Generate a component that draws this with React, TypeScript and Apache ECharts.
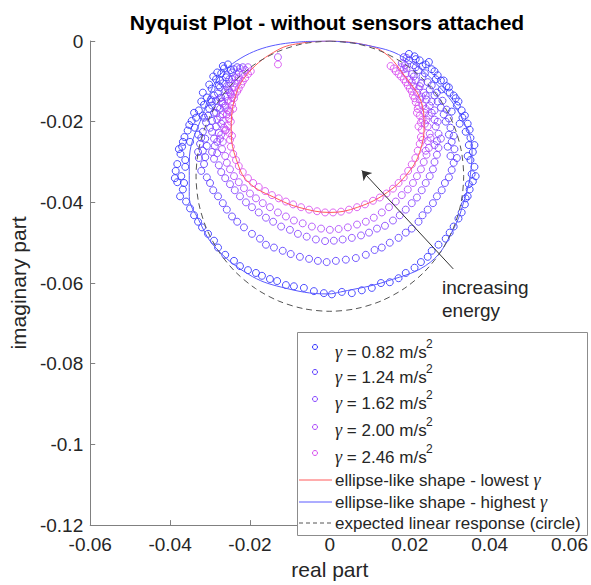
import React, { useEffect, useRef } from 'react';
import * as echarts from 'echarts';

const FONT = '"Liberation Sans", Arial, Helvetica, sans-serif';
const GFONT = '"Liberation Serif", "DejaVu Serif", serif';

const gammaLabels = ['0.82', '1.24', '1.62', '2.00', '2.46'];
const seriesColors = ['#3030ff', '#5a3cff', '#8442ff', '#ab46fb', '#d84cf0'];

const ring082 = [
  [-0.0255, -0.0058], [-0.0265, -0.0068], [-0.0248, -0.0072], [-0.0272, -0.0080], [-0.0260, -0.0090],
  [-0.0285, -0.0095], [-0.0278, -0.0110], [-0.0296, -0.0118], [-0.0290, -0.0135], [-0.0308, -0.0140],
  [-0.0315, -0.0158], [-0.0302, -0.0168], [-0.0328, -0.0172], [-0.0335, -0.0190], [-0.0346, -0.0198],
  [-0.0338, -0.0215], [-0.0356, -0.0222], [-0.0364, -0.0238], [-0.0350, -0.0250], [-0.0370, -0.0262],
  [-0.0374, -0.0280], [-0.0362, -0.0295], [-0.0382, -0.0305], [-0.0386, -0.0322], [-0.0372, -0.0335],
  [-0.0382, -0.0350], [-0.0368, -0.0368], [-0.0375, -0.0385], [-0.0360, -0.0398], [-0.0350, -0.0415],
  [-0.0340, -0.0432], [-0.0330, -0.0448], [-0.0320, -0.0462], [-0.0305, -0.0478], [-0.0290, -0.0495],
  [-0.0280, -0.0512], [-0.0262, -0.0530], [-0.0240, -0.0545], [-0.0225, -0.0558], [-0.0205, -0.0568],
  [-0.0185, -0.0575], [-0.0170, -0.0582], [-0.0150, -0.0590], [-0.0132, -0.0595], [-0.0110, -0.0605],
  [-0.0090, -0.0608], [-0.0065, -0.0612], [-0.0040, -0.0620], [-0.0015, -0.0625], [0.0005, -0.0628],
  [0.0030, -0.0622], [0.0055, -0.0625], [0.0080, -0.0618], [0.0105, -0.0612], [0.0128, -0.0600],
  [0.0150, -0.0598], [0.0172, -0.0588], [0.0190, -0.0575], [0.0212, -0.0562], [0.0228, -0.0548],
  [0.0245, -0.0535], [0.0255, -0.0520], [0.0272, -0.0505], [0.0290, -0.0490], [0.0300, -0.0475],
  [0.0310, -0.0460], [0.0322, -0.0440], [0.0330, -0.0425], [0.0338, -0.0405], [0.0345, -0.0385],
  [0.0350, -0.0368], [0.0358, -0.0348], [0.0355, -0.0330], [0.0362, -0.0312], [0.0352, -0.0295],
  [0.0358, -0.0275], [0.0348, -0.0258], [0.0352, -0.0240], [0.0340, -0.0225], [0.0345, -0.0205],
  [0.0332, -0.0190], [0.0330, -0.0172], [0.0318, -0.0160], [0.0315, -0.0142], [0.0300, -0.0128],
  [0.0292, -0.0112], [0.0278, -0.0098], [0.0270, -0.0085], [0.0255, -0.0070], [0.0240, -0.0058],
  [0.0225, -0.0048], [0.0212, -0.0038], [0.0198, -0.0032], [0.0280, -0.0120], [0.0305, -0.0175],
  [0.0325, -0.0205], [0.0262, -0.0075], [0.0232, -0.0062],
  [-0.0268, -0.0062], [-0.0282, -0.0078], [-0.0292, -0.0088], [-0.0275, -0.0098], [-0.0302, -0.0108],
  [-0.0318, -0.0128], [-0.0296, -0.0150], [-0.0322, -0.0150], [-0.0340, -0.0178], [-0.0318, -0.0185],
  [-0.0352, -0.0208], [-0.0330, -0.0232], [-0.0368, -0.0250], [-0.0378, -0.0268], [-0.0362, -0.0312],
  [-0.0388, -0.0340], [-0.0365, -0.0352],
  [0.0215, -0.0045], [0.0248, -0.0052], [0.0265, -0.0095], [0.0285, -0.0098], [0.0298, -0.0115],
  [0.0310, -0.0135], [0.0322, -0.0150], [0.0338, -0.0185], [0.0350, -0.0220], [0.0362, -0.0258],
  [0.0345, -0.0285], [0.0365, -0.0335], [0.0348, -0.0355], [0.0340, -0.0390],
];

const ring124 = [
  [-0.0232, -0.0065], [-0.0245, -0.0078], [-0.0252, -0.0095], [-0.0268, -0.0105], [-0.0262, -0.0122],
  [-0.0280, -0.0130], [-0.0285, -0.0148], [-0.0295, -0.0160], [-0.0290, -0.0178], [-0.0305, -0.0185],
  [-0.0310, -0.0202], [-0.0300, -0.0215], [-0.0318, -0.0225], [-0.0312, -0.0242], [-0.0325, -0.0255],
  [-0.0318, -0.0272], [-0.0328, -0.0290], [-0.0315, -0.0305], [-0.0322, -0.0322], [-0.0308, -0.0338],
  [-0.0300, -0.0352], [-0.0292, -0.0370], [-0.0280, -0.0385], [-0.0268, -0.0402], [-0.0258, -0.0418],
  [-0.0245, -0.0435], [-0.0232, -0.0448], [-0.0215, -0.0462], [-0.0195, -0.0478], [-0.0175, -0.0490],
  [-0.0160, -0.0505], [-0.0140, -0.0512], [-0.0118, -0.0520], [-0.0098, -0.0528], [-0.0075, -0.0535],
  [-0.0052, -0.0540], [-0.0030, -0.0545], [-0.0008, -0.0548], [0.0015, -0.0545], [0.0040, -0.0542],
  [0.0065, -0.0538], [0.0090, -0.0530], [0.0112, -0.0518], [0.0130, -0.0512], [0.0150, -0.0500],
  [0.0172, -0.0488], [0.0190, -0.0475], [0.0205, -0.0465], [0.0222, -0.0448], [0.0232, -0.0432],
  [0.0245, -0.0418], [0.0258, -0.0402], [0.0268, -0.0385], [0.0280, -0.0370], [0.0288, -0.0352],
  [0.0298, -0.0338], [0.0305, -0.0320], [0.0310, -0.0302], [0.0302, -0.0285], [0.0312, -0.0268],
  [0.0305, -0.0250], [0.0298, -0.0232], [0.0302, -0.0215], [0.0290, -0.0200], [0.0285, -0.0182],
  [0.0278, -0.0165], [0.0270, -0.0150], [0.0262, -0.0135], [0.0250, -0.0120], [0.0245, -0.0102],
  [0.0232, -0.0088], [0.0222, -0.0072], [0.0210, -0.0060], [0.0198, -0.0048], [0.0185, -0.0040],
  [-0.0240, -0.0070], [-0.0258, -0.0085], [-0.0275, -0.0115], [-0.0272, -0.0140], [-0.0298, -0.0145],
  [-0.0282, -0.0165], [-0.0315, -0.0190], [-0.0295, -0.0198], [-0.0322, -0.0240], [-0.0308, -0.0260],
  [-0.0330, -0.0275], [-0.0312, -0.0288],
  [0.0192, -0.0042], [0.0215, -0.0065], [0.0238, -0.0080], [0.0255, -0.0110], [0.0268, -0.0128],
  [0.0282, -0.0148], [0.0292, -0.0170], [0.0298, -0.0192], [0.0310, -0.0235], [0.0295, -0.0262],
  [0.0318, -0.0290],
];

const ring162 = [
  [-0.0218, -0.0065], [-0.0228, -0.0078], [-0.0238, -0.0090], [-0.0248, -0.0105], [-0.0255, -0.0120],
  [-0.0262, -0.0138], [-0.0270, -0.0150], [-0.0275, -0.0168], [-0.0268, -0.0182], [-0.0282, -0.0195],
  [-0.0285, -0.0212], [-0.0278, -0.0228], [-0.0290, -0.0242], [-0.0288, -0.0260], [-0.0282, -0.0278],
  [-0.0290, -0.0292], [-0.0278, -0.0308], [-0.0272, -0.0325], [-0.0262, -0.0340], [-0.0250, -0.0355],
  [-0.0238, -0.0370], [-0.0225, -0.0385], [-0.0210, -0.0400], [-0.0195, -0.0412], [-0.0178, -0.0425],
  [-0.0160, -0.0438], [-0.0142, -0.0448], [-0.0122, -0.0460], [-0.0100, -0.0468], [-0.0080, -0.0478],
  [-0.0058, -0.0485], [-0.0035, -0.0492], [-0.0012, -0.0496], [0.0010, -0.0495], [0.0032, -0.0492],
  [0.0055, -0.0488], [0.0078, -0.0482], [0.0098, -0.0475], [0.0118, -0.0465], [0.0138, -0.0458],
  [0.0158, -0.0445], [0.0175, -0.0432], [0.0190, -0.0418], [0.0205, -0.0402], [0.0218, -0.0388],
  [0.0230, -0.0370], [0.0240, -0.0352], [0.0250, -0.0335], [0.0258, -0.0318], [0.0262, -0.0300],
  [0.0268, -0.0282], [0.0272, -0.0265], [0.0268, -0.0248], [0.0272, -0.0230], [0.0265, -0.0212],
  [0.0262, -0.0195], [0.0255, -0.0178], [0.0250, -0.0160], [0.0242, -0.0145], [0.0235, -0.0128],
  [0.0225, -0.0112], [0.0215, -0.0098], [0.0205, -0.0082], [0.0192, -0.0068], [0.0180, -0.0055],
  [-0.0225, -0.0068], [-0.0245, -0.0095], [-0.0258, -0.0112], [-0.0250, -0.0128], [-0.0275, -0.0142],
  [-0.0262, -0.0160], [-0.0285, -0.0178], [-0.0272, -0.0205], [-0.0295, -0.0225], [-0.0282, -0.0250],
  [-0.0295, -0.0275],
  [0.0188, -0.0060], [0.0210, -0.0088], [0.0228, -0.0105], [0.0240, -0.0135], [0.0255, -0.0150],
  [0.0262, -0.0172], [0.0270, -0.0200], [0.0278, -0.0242], [0.0262, -0.0258],
];

const ring200 = [
  [-0.0205, -0.0065], [-0.0218, -0.0082], [-0.0230, -0.0098], [-0.0240, -0.0115], [-0.0248, -0.0132],
  [-0.0255, -0.0148], [-0.0262, -0.0165], [-0.0258, -0.0182], [-0.0268, -0.0198], [-0.0265, -0.0215],
  [-0.0272, -0.0232], [-0.0268, -0.0250], [-0.0270, -0.0268], [-0.0262, -0.0285], [-0.0258, -0.0302],
  [-0.0250, -0.0318], [-0.0240, -0.0335], [-0.0228, -0.0350], [-0.0215, -0.0365], [-0.0200, -0.0378],
  [-0.0185, -0.0390], [-0.0168, -0.0402], [-0.0150, -0.0412], [-0.0130, -0.0425], [-0.0110, -0.0435],
  [-0.0090, -0.0445], [-0.0068, -0.0452], [-0.0045, -0.0460], [-0.0022, -0.0465], [0.0000, -0.0468],
  [0.0022, -0.0466], [0.0045, -0.0462], [0.0068, -0.0455], [0.0090, -0.0448], [0.0110, -0.0438],
  [0.0130, -0.0425], [0.0148, -0.0412], [0.0165, -0.0398], [0.0180, -0.0382], [0.0195, -0.0368],
  [0.0208, -0.0352], [0.0218, -0.0335], [0.0228, -0.0318], [0.0235, -0.0300], [0.0242, -0.0282],
  [0.0248, -0.0265], [0.0245, -0.0248], [0.0250, -0.0230], [0.0245, -0.0212], [0.0242, -0.0195],
  [0.0238, -0.0178], [0.0232, -0.0160], [0.0225, -0.0145], [0.0218, -0.0128], [0.0210, -0.0112],
  [0.0200, -0.0095], [0.0190, -0.0080], [0.0178, -0.0065], [-0.0130, -0.0040],
  [-0.0212, -0.0072], [-0.0228, -0.0090], [-0.0238, -0.0105], [-0.0252, -0.0122], [-0.0245, -0.0140],
  [-0.0268, -0.0155], [-0.0255, -0.0172], [-0.0275, -0.0188], [-0.0262, -0.0222], [-0.0275, -0.0242],
  [0.0185, -0.0070], [0.0205, -0.0102], [0.0222, -0.0118], [0.0230, -0.0138], [0.0240, -0.0168],
  [0.0248, -0.0185], [0.0238, -0.0205], [0.0252, -0.0240], [0.0240, -0.0272],
];

const ring246 = [
  [-0.0198, -0.0075], [-0.0212, -0.0092], [-0.0222, -0.0108], [-0.0232, -0.0125], [-0.0240, -0.0142],
  [-0.0245, -0.0158], [-0.0250, -0.0175], [-0.0252, -0.0192], [-0.0255, -0.0210], [-0.0252, -0.0228],
  [-0.0250, -0.0245], [-0.0248, -0.0262], [-0.0242, -0.0280], [-0.0235, -0.0295], [-0.0228, -0.0310],
  [-0.0218, -0.0325], [-0.0205, -0.0340], [-0.0192, -0.0352], [-0.0178, -0.0362], [-0.0162, -0.0372],
  [-0.0145, -0.0382], [-0.0128, -0.0390], [-0.0110, -0.0398], [-0.0092, -0.0405], [-0.0072, -0.0412],
  [-0.0052, -0.0418], [-0.0032, -0.0422], [-0.0012, -0.0425], [0.0008, -0.0425], [0.0028, -0.0423],
  [0.0048, -0.0418], [0.0068, -0.0412], [0.0088, -0.0405], [0.0108, -0.0396], [0.0125, -0.0388],
  [0.0142, -0.0378], [0.0158, -0.0366], [0.0172, -0.0352], [0.0185, -0.0338], [0.0196, -0.0322],
  [0.0205, -0.0306], [0.0214, -0.0290], [0.0220, -0.0272], [0.0225, -0.0255], [0.0228, -0.0238],
  [0.0230, -0.0220], [0.0228, -0.0202], [0.0225, -0.0185], [0.0220, -0.0168], [0.0215, -0.0152],
  [0.0208, -0.0135], [0.0200, -0.0118], [0.0190, -0.0102], [0.0178, -0.0088], [0.0165, -0.0075],
  [0.0152, -0.0062], [-0.0005, 0.0005], [-0.0130, -0.0058],
  [-0.0205, -0.0082], [-0.0218, -0.0100], [-0.0228, -0.0118], [-0.0238, -0.0132], [-0.0248, -0.0150],
  [-0.0242, -0.0168], [-0.0258, -0.0182], [-0.0248, -0.0200], [-0.0260, -0.0220], [-0.0245, -0.0235],
  [0.0160, -0.0068], [0.0172, -0.0082], [0.0185, -0.0095], [0.0195, -0.0110], [0.0205, -0.0125],
  [0.0212, -0.0142], [0.0222, -0.0160], [0.0218, -0.0178], [0.0232, -0.0195], [0.0222, -0.0212],
  [0.0232, -0.0245],
];

const redCurve = [
  [0, 0], [0.0070, -0.0006], [0.0135, -0.0028], [0.0194, -0.0096], [0.0227, -0.0146],
  [0.0236, -0.0212], [0.0227, -0.0269], [0.0202, -0.0319], [0.0144, -0.0375], [0.0070, -0.0412],
  [0, -0.0425], [-0.0075, -0.0413], [-0.0130, -0.0392], [-0.0204, -0.0350], [-0.0234, -0.0294],
  [-0.0247, -0.0227], [-0.0239, -0.0146], [-0.0204, -0.0079], [-0.0130, -0.0022], [-0.0070, -0.0005],
  [0, 0],
];

const blueCurve = [
  [0, 0], [0.0090, -0.0010], [0.0184, -0.0040], [0.0280, -0.0120], [0.0335, -0.0200],
  [0.0356, -0.0270], [0.0352, -0.0330], [0.0338, -0.0390], [0.0309, -0.0467], [0.0252, -0.0548],
  [0.0144, -0.0595], [0.0027, -0.0622], [-0.0005, -0.0627], [-0.0122, -0.0610], [-0.0204, -0.0578],
  [-0.0289, -0.0509], [-0.0329, -0.0442], [-0.0352, -0.0385], [-0.0352, -0.0300], [-0.0325, -0.0200],
  [-0.0254, -0.0064], [-0.0072, -0.0002], [0, 0],
];

const circleCurve = [
  [0, 0], [0.00654, -0.00064], [0.01282, -0.00255], [0.01861, -0.00564], [0.02369, -0.00981],
  [0.02786, -0.01489], [0.03095, -0.02068], [0.03286, -0.02696], [0.0335, -0.0335], [0.03286, -0.04004],
  [0.03095, -0.04632], [0.02786, -0.05211], [0.02369, -0.05719], [0.01861, -0.06136], [0.01282, -0.06445],
  [0.00654, -0.06636], [0, -0.067], [-0.00654, -0.06636], [-0.01282, -0.06445], [-0.01861, -0.06136],
  [-0.02369, -0.05719], [-0.02786, -0.05211], [-0.03095, -0.04632], [-0.03286, -0.04004], [-0.0335, -0.0335],
  [-0.03286, -0.02696], [-0.03095, -0.02068], [-0.02786, -0.01489], [-0.02369, -0.00981], [-0.01861, -0.00564],
  [-0.01282, -0.00255], [-0.00654, -0.00064], [0, 0],
];

const arrowTail = [0.0309, -0.0565];
const arrowHead = [0.0080, -0.0321];

const rings = [ring082, ring124, ring162, ring200, ring246];

const legendMarkerY = [347, 372, 399, 427, 453];
const legendTextY = [352, 377, 403, 430, 457];

function fmt(v: number) {
  const n = parseFloat(v.toFixed(4));
  return n === 0 ? '0' : String(n);
}

export default function App() {
  const ref = useRef<HTMLDivElement>(null);
  useEffect(() => {
    if (!ref.current) return;
    const chart = echarts.init(ref.current, undefined, { renderer: 'svg' });

    const axisCommon = {
      type: 'value',
      splitLine: { show: false },
      axisLine: { show: true, onZero: false, lineStyle: { color: '#808080', width: 1 } },
      axisTick: { show: true, inside: true, length: 5, lineStyle: { color: '#808080' } },
      axisLabel: { fontSize: 19, color: '#262626', fontFamily: FONT, formatter: fmt },
      nameLocation: 'middle',
      nameTextStyle: { fontSize: 21, color: '#262626', fontFamily: FONT },
    };

    const scatterSeries = rings.map((r, i) => ({
      type: 'scatter',
      name: gammaLabels[i],
      data: r,
      symbol: 'circle',
      symbolSize: 7,
      silent: true,
      itemStyle: { color: 'rgba(0,0,0,0)', borderColor: seriesColors[i], borderWidth: 1, opacity: 0.85 },
      z: 2 + i * 0.01,
    }));

    const grich = { g: { fontStyle: 'italic', fontSize: 18, fontFamily: GFONT, fill: '#262626' } };

    const graphics: any[] = [
      {
        type: 'text', x: 327, y: 22, z: 100,
        style: { text: 'Nyquist Plot - without sensors attached', font: `bold 21px ${FONT}`, fill: '#000', align: 'center', verticalAlign: 'middle' },
      },
      { type: 'text', x: 442, y: 287, z: 100, style: { text: 'increasing', font: `19px ${FONT}`, fill: '#262626', align: 'left', verticalAlign: 'middle' } },
      { type: 'text', x: 442, y: 310, z: 100, style: { text: 'energy', font: `19px ${FONT}`, fill: '#262626', align: 'left', verticalAlign: 'middle' } },
      {
        type: 'rect', z: 99,
        shape: { x: 297.5, y: 332.5, width: 290, height: 203 },
        style: { fill: '#ffffff', stroke: '#8c8c8c', lineWidth: 1 },
      },
    ];
    gammaLabels.forEach((g, i) => {
      graphics.push({
        type: 'circle', z: 100,
        shape: { cx: 315, cy: legendMarkerY[i], r: 2.5 },
        style: { fill: 'none', stroke: seriesColors[i], lineWidth: 1 },
      });
      graphics.push({
        type: 'text', x: 335, y: legendTextY[i], z: 100,
        style: {
          text: `{g|γ} = ${g} m/s`,
          font: `17px ${FONT}`, fill: '#262626', align: 'left', verticalAlign: 'middle',
          rich: grich,
        },
      });
      graphics.push({
        type: 'text', x: 426, y: legendTextY[i] - 8, z: 100,
        style: { text: '2', font: `12px ${FONT}`, fill: '#262626', align: 'left', verticalAlign: 'middle' },
      });
    });
    const lineEntries = [
      { y: 480, color: '#ff5a5a', dash: null, text: 'ellipse-like shape - lowest {g|γ}' },
      { y: 502, color: '#5a5aff', dash: null, text: 'ellipse-like shape - highest {g|γ}' },
      { y: 523, color: '#555555', dash: [4, 3], text: 'expected linear response (circle)' },
    ];
    lineEntries.forEach((e) => {
      graphics.push({
        type: 'line', z: 100,
        shape: { x1: 299, y1: e.y, x2: 332, y2: e.y },
        style: { stroke: e.color, lineWidth: 1, lineDash: e.dash || undefined },
      });
      graphics.push({
        type: 'text', x: 335, y: e.y, z: 100,
        style: {
          text: e.text, font: `17px ${FONT}`, fill: '#262626', align: 'left', verticalAlign: 'middle',
          rich: grich,
        },
      });
    });

    chart.setOption({
      animation: false,
      backgroundColor: '#ffffff',
      grid: { left: 88, top: 41, width: 482, height: 486, containLabel: false },
      xAxis: {
        ...axisCommon,
        min: -0.06, max: 0.06, interval: 0.02,
        name: 'real part', nameGap: 33,
        axisLabel: { ...axisCommon.axisLabel, margin: 10 },
      },
      yAxis: {
        ...axisCommon,
        min: -0.12, max: 0, interval: 0.02,
        name: 'imaginary part', nameGap: 52,
        axisLabel: { ...axisCommon.axisLabel, margin: 7 },
      },
      series: [
        ...scatterSeries,
        { type: 'line', data: redCurve, smooth: 0.4, symbol: 'none', silent: true, lineStyle: { color: '#ff5a5a', width: 1 }, z: 3 },
        { type: 'line', data: blueCurve, smooth: 0.4, symbol: 'none', silent: true, lineStyle: { color: '#5a5aff', width: 1 }, z: 3 },
        { type: 'line', data: circleCurve, smooth: 0.3, symbol: 'none', silent: true, lineStyle: { color: '#555555', width: 1, type: [6, 4] }, z: 3 },
        {
          type: 'lines', coordinateSystem: 'cartesian2d', silent: true, z: 4,
          data: [{ coords: [arrowTail, arrowHead] }],
          symbol: ['none', 'arrow'], symbolSize: 9,
          lineStyle: { color: '#333333', width: 1, opacity: 1 },
        },
      ],
      graphic: graphics,
    });
    return () => chart.dispose();
  }, []);
  return <div ref={ref} style={{ position: 'fixed', left: 0, top: 0, width: 591, height: 585 }} />;
}
